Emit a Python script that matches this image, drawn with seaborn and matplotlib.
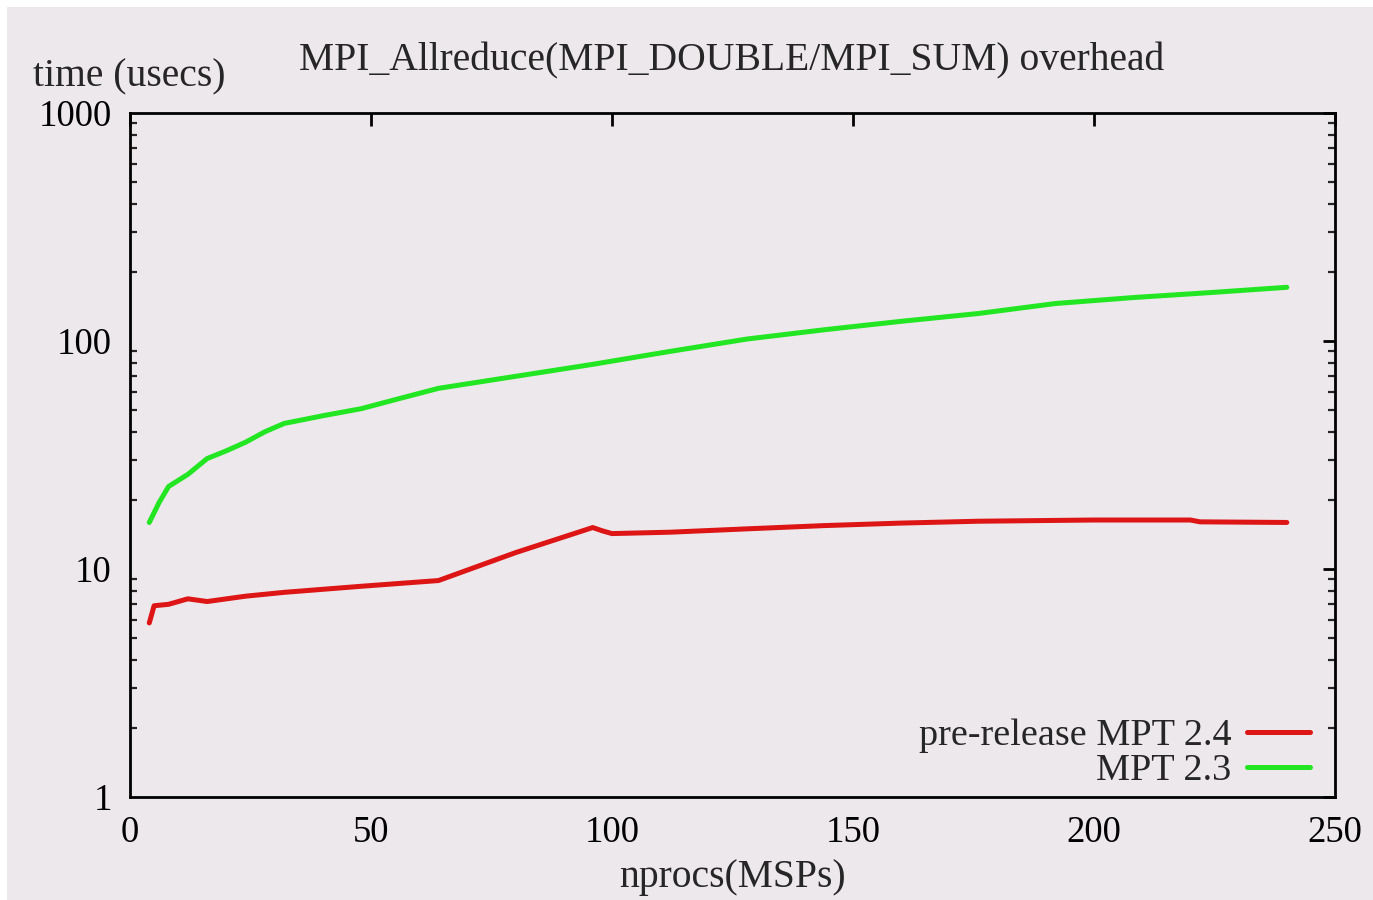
import matplotlib
matplotlib.use("Agg")
import matplotlib.pyplot as plt
import seaborn as sns
import pandas as pd
from matplotlib.patches import Rectangle
from matplotlib.ticker import FixedLocator, LogLocator, NullFormatter

# ---- data ----
nprocs_new = [4, 5, 8, 12, 14, 16, 24, 32, 48, 64, 80, 96, 98, 100, 112, 128, 144,
              160, 176, 200, 220, 222, 240]
time_new = [5.8, 6.9, 7.0, 7.4, 7.3, 7.2, 7.6, 7.9, 8.4, 8.9, 11.8, 15.2, 14.7, 14.3,
            14.5, 15.0, 15.5, 15.9, 16.2, 16.4, 16.4, 16.1, 16.0]

nprocs_old = [4, 6, 8, 12, 16, 20, 24, 28, 32, 40, 48, 56, 64, 80, 96, 112, 128,
              144, 160, 176, 192, 208, 224, 240]
time_old = [16.0, 19.5, 23.0, 26.0, 30.5, 33.0, 36.0, 40.0, 43.5, 47.0, 50.5, 56.0,
            62.0, 70.0, 79.0, 90.0, 102.0, 112.0, 122.0, 132.0, 146.0, 155.0, 163.0, 172.0]

series_names = ["pre-release MPT 2.4", "MPT 2.3"]
x_ticks = [0, 50, 100, 150, 200, 250]
y_ticks = [1, 10, 100, 1000]
title = "MPI_Allreduce(MPI_DOUBLE/MPI_SUM) overhead"
xlabel = "nprocs(MSPs)"
ylabel = "time (usecs)"

df = pd.concat([
    pd.DataFrame({"nprocs": nprocs_new, "time": time_new, "series": series_names[0]}),
    pd.DataFrame({"nprocs": nprocs_old, "time": time_old, "series": series_names[1]}),
])

sns.set_style("white")
plt.rcParams["font.family"] = ["Liberation Serif", "DejaVu Serif"]

bg = "#ece8ec"
fig = plt.figure(figsize=(13.73, 9.0), dpi=100, facecolor="white")
fig.patches.append(Rectangle((7 / 1373, 0), 1 - 7 / 1373, 1 - 7 / 900,
                             transform=fig.transFigure, facecolor=bg,
                             edgecolor="none", zorder=-10))
ax = fig.add_axes([130 / 1373, 1 - 797 / 900, (1335 - 130) / 1373, (797 - 113) / 900])
ax.set_facecolor(bg)

palette = {series_names[0]: "#dd1515", series_names[1]: "#22e622"}
sns.lineplot(data=df, x="nprocs", y="time", hue="series", palette=palette,
             linewidth=3.6, ax=ax, estimator=None, sort=False)

ax.set_yscale("log")
ax.set_xlim(0, 250)
ax.set_ylim(1, 1000)
ax.xaxis.set_major_locator(FixedLocator(x_ticks))
ax.set_xticklabels([str(t) for t in x_ticks])
ax.yaxis.set_major_locator(FixedLocator(y_ticks))
ax.set_yticklabels([str(t) for t in y_ticks])
ax.yaxis.set_minor_locator(LogLocator(base=10, subs=range(2, 10)))
ax.yaxis.set_minor_formatter(NullFormatter())

for s in ax.spines.values():
    s.set_visible(True)
    s.set_color("black")
    s.set_linewidth(2.0)

ax.tick_params(axis="both", which="major", direction="in", length=9, width=2,
               top=True, right=True, labelsize=26.5, colors="black")
ax.tick_params(axis="y", which="minor", direction="in", length=5, width=1.6,
               left=True, right=True)
ax.tick_params(axis="y", which="major", pad=13)
ax.tick_params(axis="x", which="major", pad=13)

ax.set_xlabel("")
ax.set_ylabel("")
fs = 28.5
fig.text(732 / 1373, 1 - 61 / 900, title, ha="center", va="center", fontsize=fs)
fig.text(33 / 1373, 1 - 77 / 900, ylabel, ha="left", va="center", fontsize=fs)
fig.text(732 / 1373, 1 - 878 / 900, xlabel, ha="center", va="center", fontsize=fs)

handles, labels = ax.get_legend_handles_labels()
leg = ax.legend(handles, labels, loc="lower right", bbox_to_anchor=(1310 / 1373, 1 - 788 / 900),
                bbox_transform=fig.transFigure, frameon=False, markerfirst=False,
                fontsize=27.5, handlelength=1.65, handletextpad=0.4, labelspacing=0.0,
                borderaxespad=0, borderpad=0)
for t in leg.get_texts():
    t.set_ha("right")
for l in leg.get_lines():
    l.set_linewidth(3.6)

fig.savefig("out.png", dpi=100, facecolor="white")
